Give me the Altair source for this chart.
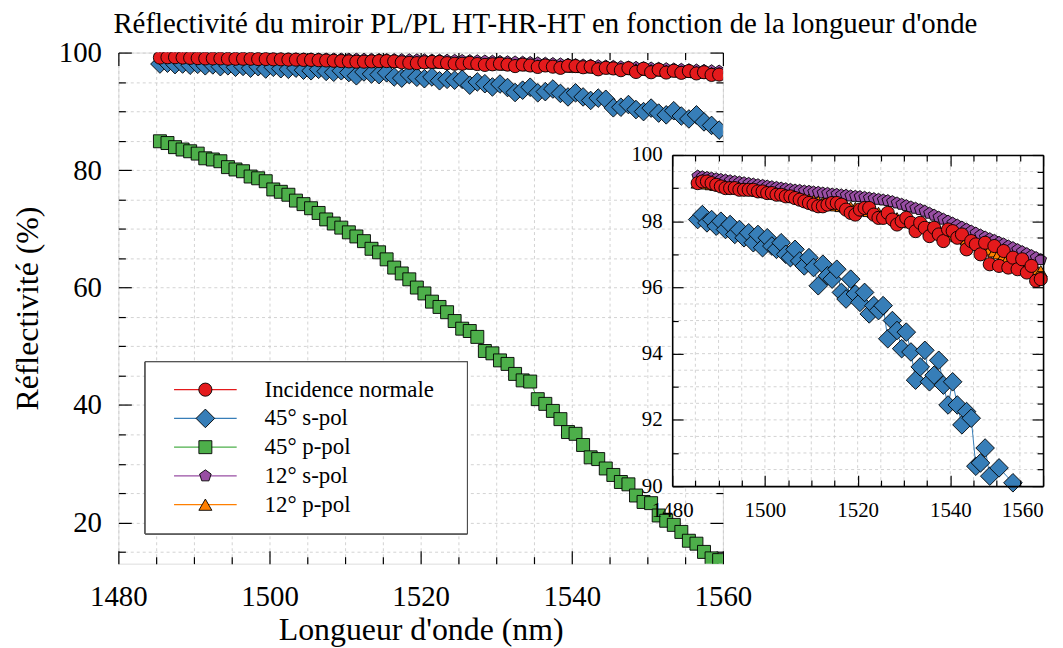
import altair as alt
import pandas as pd

# ---------------- data ----------------
WAVELENGTH = [1485.5 + i for i in range(75)]   # nm, 1 nm step
SERIES = ["Incidence normale", "45° s-pol", "45° p-pol", "12° s-pol", "12° p-pol"]

R_NORMAL = [99.15, 99.2, 99.2, 99.15, 99.1, 99.05, 99.0, 99.0, 99.0, 98.95,
            98.95, 98.95, 98.95, 98.9, 98.9, 98.85, 98.85, 98.8, 98.8, 98.75,
            98.75, 98.7, 98.65, 98.6, 98.55, 98.5, 98.45, 98.45, 98.5, 98.55,
            98.55, 98.5, 98.35, 98.25, 98.2, 98.35, 98.4, 98.4, 98.2, 98.1,
            98.1, 98.25, 98.05, 97.9, 98.0, 98.1, 97.95, 97.7, 97.95, 97.8,
            97.55, 97.8, 97.6, 97.4, 97.75, 97.7, 97.5, 97.6, 97.15, 97.4,
            97.3, 97.0, 97.35, 96.7, 97.25, 96.65, 97.1, 96.6, 96.9, 96.55,
            96.85, 96.45, 96.65, 96.2, 96.25]

R_45S = [98.05, 98.2, 97.95, 98.05, 97.85, 98.0, 97.75, 97.9, 97.6, 97.75,
         97.5, 97.65, 97.35, 97.6, 97.2, 97.5, 97.25, 97.15, 97.35, 97.0,
         96.9, 97.15, 96.8, 96.65, 96.9, 96.6, 96.05, 96.7, 96.35, 96.25,
         96.55, 95.85, 95.65, 96.25, 95.8, 95.55, 95.85, 95.2, 95.45, 95.3,
         95.45, 94.45, 95.0, 94.7, 94.15, 94.65, 94.05, 93.2, 93.6, 94.1,
         93.15, 93.35, 93.8, 93.05, 92.45, 93.15, 92.45, 91.85, 92.25, 92.05,
         90.6, 90.7, 91.15, 90.3, 89.95, 90.55, 89.7, 89.4, 90.1, 89.2,
         88.7, 89.4, 88.2, 87.6, 86.8]

R_45P = [84.9, 84.6, 83.9, 83.5, 83.2, 82.8, 82.0, 81.8, 81.5, 80.5,
         80.1, 79.8, 78.9, 78.6, 78.1, 76.7, 76.3, 75.8, 74.8, 74.2,
         73.5, 72.7, 71.6, 70.9, 70.2, 69.4, 68.7, 67.9, 66.6, 66.0,
         64.8, 63.4, 62.4, 61.4, 60.0, 59.0, 57.6, 56.7, 55.8, 54.3,
         53.0, 52.6, 51.6, 49.2, 48.8, 47.6, 47.0, 45.3, 44.2, 44.0,
         41.0, 40.2, 39.0, 37.6, 35.4, 35.1, 33.2, 31.1, 30.8, 29.2,
         28.1, 26.9, 26.5, 24.6, 23.5, 23.3, 21.2, 20.3, 19.6, 18.4,
         16.9, 16.4, 15.0, 13.9, 13.6]

R_12S = [99.36, 99.34, 99.32, 99.30, 99.28, 99.26, 99.24, 99.22, 99.20, 99.18,
         99.16, 99.14, 99.12, 99.10, 99.08, 99.06, 99.04, 99.02, 99.00, 98.98,
         98.96, 98.94, 98.93, 98.91, 98.90, 98.88, 98.87, 98.85, 98.84, 98.82,
         98.81, 98.79, 98.78, 98.76, 98.75, 98.74, 98.72, 98.70, 98.68, 98.66,
         98.64, 98.62, 98.59, 98.55, 98.51, 98.47, 98.43, 98.39, 98.35, 98.30,
         98.24, 98.18, 98.12, 98.06, 98.00, 97.94, 97.88, 97.82, 97.76, 97.70,
         97.64, 97.58, 97.52, 97.47, 97.42, 97.36, 97.31, 97.25, 97.20, 97.14,
         97.08, 97.02, 96.96, 96.90, 96.84]

R_12P = [99.17, 99.16, 99.14, 99.12, 99.10, 99.08, 99.06, 99.04, 99.02, 99.00,
         98.98, 98.96, 98.94, 98.92, 98.90, 98.88, 98.86, 98.84, 98.82, 98.80,
         98.77, 98.74, 98.71, 98.68, 98.65, 98.62, 98.59, 98.56, 98.53, 98.50,
         98.48, 98.46, 98.44, 98.42, 98.40, 98.37, 98.34, 98.31, 98.28, 98.25,
         98.21, 98.17, 98.13, 98.09, 98.05, 98.01, 97.97, 97.93, 97.89, 97.85,
         97.81, 97.77, 97.73, 97.69, 97.65, 97.60, 97.55, 97.50, 97.45, 97.39,
         97.33, 97.27, 97.21, 97.15, 97.09, 97.03, 96.97, 96.91, 96.85, 96.79,
         96.73, 96.67, 96.61, 96.55, 96.49]

MAIN_X_DOMAIN = [1480, 1560]
MAIN_Y_DOMAIN = [13, 100]
MAIN_X_TICKS = list(range(1480, 1561, 5))
MAIN_Y_TICKS = list(range(15, 101, 5))

INSET_X_DOMAIN = [1480, 1560]
INSET_Y_DOMAIN = [90, 100]
INSET_X_TICKS = list(range(1480, 1561, 5))
INSET_Y_TICKS = [90 + 0.5 * i for i in range(21)]
INSET_X_GRID = list(range(1485, 1556, 5))
INSET_Y_GRID = [90.5 + 0.5 * i for i in range(19)]

TITLE = "Réflectivité du miroir PL/PL HT-HR-HT en fonction de la longueur d'onde"
X_TITLE = "Longueur d'onde (nm)"
Y_TITLE = "Réflectivité (%)"

# ---------------- styles / layout ----------------
COLORS = ["#e41a1c", "#377eb8", "#4daf4a", "#984ea3", "#ff7f00"]
PENTAGON = "M0,-1L0.951,-0.309L0.588,0.809L-0.588,0.809L-0.951,-0.309Z"
SHAPES = ["circle", "diamond", "square", PENTAGON, "triangle-up"]
SIZES = [175, 350, 170, 150, 170]
DRAW_ORDER = ["12° s-pol", "12° p-pol", "45° p-pol", "45° s-pol", "Incidence normale"]
FONT = "Liberation Serif"
GRID_COLOR = "#c8c8c8"

W, H = 608, 514
INSET_X_RANGE = [557, 930]
INSET_Y_RANGE = [436, 103]
LEG_BOX = (27, 351, 311, 484)          # x1, x2, y1, y2 in plot pixels
LEG_ROWS = [339, 454.7]                 # first / last row centre
LEG_LINE = (56, 119)
LEG_MARK_X = 87.5
LEG_TEXT_X = 147

VALUES = dict(zip(SERIES, [R_NORMAL, R_45S, R_45P, R_12S, R_12P]))
rows = []
for s in DRAW_ORDER:
    for wl, r in zip(WAVELENGTH, VALUES[s]):
        rows.append({"wl": wl, "R": r, "serie": s})
df = pd.DataFrame(rows)

box_df = pd.DataFrame({"x0": [INSET_X_DOMAIN[0]], "x1": [INSET_X_DOMAIN[1]],
                       "y0": [INSET_Y_DOMAIN[0]], "y1": [INSET_Y_DOMAIN[1]]})
vgrid_df = pd.DataFrame({"g": INSET_X_GRID, "lo": INSET_Y_DOMAIN[0], "hi": INSET_Y_DOMAIN[1]})
hgrid_df = pd.DataFrame({"g": INSET_Y_GRID, "lo": INSET_X_DOMAIN[0], "hi": INSET_X_DOMAIN[1]})
legend_df = pd.DataFrame({"serie": SERIES})


def axis(orient, values, major, big, small, labels=False, title=None, grid=False,
         label_size=29, label_pad=30, offset=0, zindex=0, domain=False, **extra):
    kw = dict(orient=orient, values=values,
              tickSize=alt.ExprRef(expr=f"({major}) ? -{big} : -{small}"),
              tickColor="black", tickWidth=1.2, labels=labels, grid=grid,
              domain=domain, offset=offset, zindex=zindex, title=title,
              labelOverlap=False, labelFlush=False)
    if labels:
        kw.update(format="d", labelExpr=f"({major}) ? datum.label : ''", labelFont=FONT,
                  labelFontSize=label_size, labelColor="black", labelPadding=label_pad)
    if grid:
        kw.update(gridColor=GRID_COLOR, gridDash=[3, 3], gridWidth=0.8)
    if domain:
        kw.update(domainColor="black", domainWidth=1.6)
    if title:
        kw.update(titleFont=FONT, titleFontSize=32, titleFontWeight="normal",
                  titleColor="black")
    kw.update(extra)
    return alt.Axis(**kw)


MX = "datum.value % 20 === 0"
MYI = "datum.value % 2 === 0"

xs_main = alt.Scale(domain=MAIN_X_DOMAIN, nice=False, zero=False)
ys_main = alt.Scale(domain=MAIN_Y_DOMAIN, nice=False, zero=False)
xs_in = alt.Scale(domain=INSET_X_DOMAIN, range=INSET_X_RANGE, nice=False, zero=False)
ys_in = alt.Scale(domain=INSET_Y_DOMAIN, range=INSET_Y_RANGE, nice=False, zero=False)
row_scale = alt.Scale(type="point", domain=SERIES, range=LEG_ROWS, padding=0)

color_scale = alt.Scale(domain=SERIES, range=COLORS)
point_enc = dict(
    fill=alt.Fill("serie:N", scale=alt.Scale(domain=SERIES, range=COLORS), legend=None),
    shape=alt.Shape("serie:N", scale=alt.Scale(domain=SERIES, range=SHAPES), legend=None),
    size=alt.Size("serie:N", scale=alt.Scale(type="ordinal", domain=SERIES, range=SIZES),
                  legend=None),
)

base = alt.Chart(df)

# ---------------- main panel ----------------
main_lines = base.mark_line(strokeWidth=1, clip=True).encode(
    x=alt.X("wl:Q", scale=xs_main,
            axis=axis("bottom", MAIN_X_TICKS, MX, 13, 7, labels=True, title=X_TITLE,
                      grid=True, label_pad=32, titlePadding=-3)),
    y=alt.Y("R:Q", scale=ys_main,
            axis=axis("left", MAIN_Y_TICKS, MX, 13, 7, labels=True, title=Y_TITLE,
                      grid=True, label_pad=30, titlePadding=14)),
    color=alt.Color("serie:N", scale=color_scale, legend=None),
)

main_points = base.mark_point(filled=True, opacity=1, stroke="black", strokeWidth=0.9,
                              clip=True).encode(
    x=alt.X("wl:Q", scale=xs_main, axis=axis("top", MAIN_X_TICKS, MX, 13, 7)),
    y=alt.Y("R:Q", scale=ys_main, axis=axis("right", MAIN_Y_TICKS, MX, 13, 7)),
    **point_enc,
)

main = alt.layer(main_lines, main_points)

# ---------------- inset panel ----------------
inset_box = alt.Chart(box_df).mark_rect(fill="white", strokeWidth=0).encode(
    x=alt.X("x0:Q", scale=xs_in,
            axis=axis("bottom", INSET_X_TICKS, MX, 11, 6, labels=True, label_size=21,
                      label_pad=25, offset=INSET_Y_RANGE[0] - H, zindex=1, domain=True,
                      labelAlign={"condition": {"test": "datum.value === 1560", "value": "right"},
                                  "value": "center"})),
    x2="x1:Q",
    y=alt.Y("y0:Q", scale=ys_in,
            axis=axis("left", INSET_Y_TICKS, MYI, 11, 6, labels=True, label_size=21,
                      label_pad=21, offset=-INSET_X_RANGE[0], zindex=1, domain=True)),
    y2="y1:Q",
)

inset_vgrid = alt.Chart(vgrid_df).mark_rule(color=GRID_COLOR, strokeDash=[3, 3],
                                            strokeWidth=0.8).encode(
    x=alt.X("g:Q", scale=xs_in, axis=None),
    y=alt.Y("lo:Q", scale=ys_in, axis=None),
    y2="hi:Q",
)
inset_hgrid = alt.Chart(hgrid_df).mark_rule(color=GRID_COLOR, strokeDash=[3, 3],
                                            strokeWidth=0.8).encode(
    y=alt.Y("g:Q", scale=ys_in, axis=None),
    x=alt.X("lo:Q", scale=xs_in, axis=None),
    x2="hi:Q",
)

inset_base = base.transform_filter(f"datum.R >= {INSET_Y_DOMAIN[0]}")
inset_lines = inset_base.mark_line(strokeWidth=1).encode(
    x=alt.X("wl:Q", scale=xs_in,
            axis=axis("top", INSET_X_TICKS, MX, 11, 6, offset=-INSET_Y_RANGE[1],
                      zindex=1, domain=True)),
    y=alt.Y("R:Q", scale=ys_in,
            axis=axis("right", INSET_Y_TICKS, MYI, 11, 6, offset=INSET_X_RANGE[1] - W,
                      zindex=1, domain=True)),
    color=alt.Color("serie:N", scale=color_scale, legend=None),
)
inset_points = inset_base.mark_point(filled=True, opacity=1, stroke="black",
                                     strokeWidth=0.9).encode(
    x=alt.X("wl:Q", scale=xs_in, axis=None),
    y=alt.Y("R:Q", scale=ys_in, axis=None),
    **point_enc,
)

inset = alt.layer(inset_box, inset_vgrid, inset_hgrid, inset_lines, inset_points)

# ---------------- legend ----------------
leg = alt.Chart(legend_df)
leg_box = leg.mark_rect(fill="white", stroke="#444444", strokeWidth=1).encode(
    x=alt.value(LEG_BOX[0]), x2=alt.value(LEG_BOX[1]),
    y=alt.value(LEG_BOX[2]), y2=alt.value(LEG_BOX[3]),
)
leg_lines = leg.mark_rule(strokeWidth=1.2).encode(
    x=alt.value(LEG_LINE[0]), x2=alt.value(LEG_LINE[1]),
    y=alt.Y("serie:N", scale=row_scale, axis=None),
    color=alt.Color("serie:N", scale=color_scale, legend=None),
)
leg_marks = leg.mark_point(filled=True, opacity=1, stroke="black", strokeWidth=0.9).encode(
    x=alt.value(LEG_MARK_X),
    y=alt.Y("serie:N", scale=row_scale, axis=None),
    **point_enc,
)
leg_text = leg.mark_text(align="left", baseline="middle", font=FONT, fontSize=23,
                         color="black").encode(
    x=alt.value(LEG_TEXT_X),
    y=alt.Y("serie:N", scale=row_scale, axis=None),
    text="serie:N",
)
legend = alt.layer(leg_box, leg_lines, leg_marks, leg_text)

chart = alt.layer(main, inset, legend).resolve_scale(
    x="independent", y="independent"
).properties(
    width=W, height=H,
    title=alt.TitleParams(TITLE, font=FONT, fontSize=29, fontWeight="normal",
                          color="black", anchor="start", frame="group", dx=-5, offset=0),
    padding={"left": 3, "top": 0, "right": 5, "bottom": 0},
).configure_view(stroke="black", strokeWidth=1.6).configure(background="white")

chart.save("out.html", embed_options={"renderer": "svg", "actions": False})
